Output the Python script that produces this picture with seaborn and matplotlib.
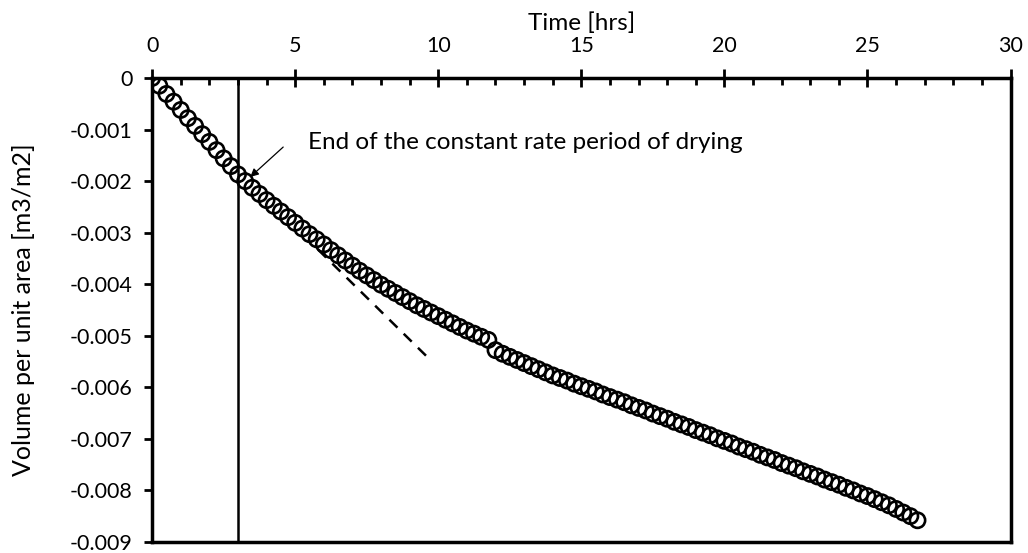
import numpy as np
import pandas as pd
import matplotlib
matplotlib.use("Agg")
import matplotlib.pyplot as plt
import seaborn as sns
from matplotlib.ticker import MultipleLocator

# Drying test: cumulative volume lost per unit area vs time (sampled every 15 min)
time_hrs = [
    0.00, 0.25, 0.50, 0.75, 1.00, 1.25, 1.50, 1.75, 2.00, 2.25, 2.50, 2.75,
    3.00, 3.25, 3.50, 3.75, 4.00, 4.25, 4.50, 4.75, 5.00, 5.25, 5.50, 5.75,
    6.00, 6.25, 6.50, 6.75, 7.00, 7.25, 7.50, 7.75, 8.00, 8.25, 8.50, 8.75,
    9.00, 9.25, 9.50, 9.75, 10.00, 10.25, 10.50, 10.75, 11.00, 11.25, 11.50, 11.75,
    12.00, 12.25, 12.50, 12.75, 13.00, 13.25, 13.50, 13.75, 14.00, 14.25, 14.50, 14.75,
    15.00, 15.25, 15.50, 15.75, 16.00, 16.25, 16.50, 16.75, 17.00, 17.25, 17.50, 17.75,
    18.00, 18.25, 18.50, 18.75, 19.00, 19.25, 19.50, 19.75, 20.00, 20.25, 20.50, 20.75,
    21.00, 21.25, 21.50, 21.75, 22.00, 22.25, 22.50, 22.75, 23.00, 23.25, 23.50, 23.75,
    24.00, 24.25, 24.50, 24.75, 25.00, 25.25, 25.50, 25.75, 26.00, 26.25, 26.50, 26.75,
]
volume_m3_m2 = [
    0.0, -0.00015, -0.00031, -0.00046, -0.00062, -0.00078, -0.00093, -0.00109,
    -0.00124, -0.00140, -0.00156, -0.00171, -0.00187, -0.00200, -0.00213, -0.00225,
    -0.00237, -0.00248, -0.00259, -0.00270, -0.00281, -0.00292, -0.00303, -0.00313,
    -0.00323, -0.00334, -0.00344, -0.00354, -0.00364, -0.00374, -0.00383, -0.00392,
    -0.00401, -0.00409, -0.00417, -0.00425, -0.00433, -0.00441, -0.00448, -0.00455,
    -0.00462, -0.00469, -0.00476, -0.00483, -0.00490, -0.00496, -0.00502, -0.00508,
    -0.00528, -0.00535, -0.00541, -0.00547, -0.00553, -0.00559, -0.00565, -0.00571,
    -0.00577, -0.00582, -0.00587, -0.00593, -0.00598, -0.00603, -0.00608, -0.00614,
    -0.00619, -0.00624, -0.00629, -0.00635, -0.00640, -0.00645, -0.00651, -0.00656,
    -0.00661, -0.00667, -0.00672, -0.00677, -0.00683, -0.00688, -0.00693, -0.00699,
    -0.00704, -0.00709, -0.00715, -0.00720, -0.00725, -0.00731, -0.00736, -0.00741,
    -0.00747, -0.00752, -0.00757, -0.00763, -0.00768, -0.00773, -0.00779, -0.00784,
    -0.00789, -0.00795, -0.00800, -0.00806, -0.00811, -0.00817, -0.00823, -0.00829,
    -0.00836, -0.00843, -0.00850, -0.00858,
]

# Extension of the constant-rate slope
rate_line_time = [5.8, 9.65]
rate_line_volume = [-0.00333, -0.00543]

# End of the constant rate period
critical_time = 3.0
arrow_tip = (3.43, -0.00192)
arrow_tail = (4.58, -0.00134)
note_pos = (5.45, -0.00126)
note_text = "End of the constant rate period of drying"

x_ticks = [0, 5, 10, 15, 20, 25, 30]
y_ticks = [0, -0.001, -0.002, -0.003, -0.004, -0.005, -0.006, -0.007, -0.008, -0.009]
y_tick_labels = ["0", "-0.001", "-0.002", "-0.003", "-0.004", "-0.005",
                 "-0.006", "-0.007", "-0.008", "-0.009"]

sns.set_theme(style="white")
plt.rcParams["font.family"] = ["Lato", "DejaVu Sans"]

fig = plt.figure(figsize=(10.28, 5.53), dpi=100)
ax = fig.add_axes([0.148, 0.02, 0.835, 0.839])

df = pd.DataFrame({"t": time_hrs, "v": volume_m3_m2})
sns.scatterplot(data=df, x="t", y="v", ax=ax, marker="o", s=120,
                facecolors="none", edgecolor="black", linewidth=1.9, zorder=3)

rate_df = pd.DataFrame({"t": rate_line_time, "v": rate_line_volume})
sns.lineplot(data=rate_df, x="t", y="v", ax=ax, color="black",
             linestyle=(0, (4.5, 3.5)), linewidth=1.8, zorder=2)

ax.axvline(critical_time, color="black", linewidth=1.8, zorder=2)

ax.annotate("", xy=arrow_tip, xytext=arrow_tail,
            arrowprops=dict(arrowstyle="-|>", color="black", lw=0.9,
                            mutation_scale=12, shrinkA=0, shrinkB=0))
ax.text(note_pos[0], note_pos[1], note_text, fontsize=17.5,
        ha="left", va="center", color="black")

ax.set_xlim(0, 30)
ax.set_ylim(-0.009, 0)
ax.xaxis.set_ticks_position("top")
ax.xaxis.set_label_position("top")
ax.set_xticks(x_ticks)
ax.xaxis.set_minor_locator(MultipleLocator(1))
ax.set_yticks(y_ticks)
ax.set_yticklabels(y_tick_labels)

ax.tick_params(axis="x", which="major", direction="inout", length=13, width=2,
               color="black", labelsize=15.5, pad=9, labelcolor="black")
ax.tick_params(axis="x", which="minor", direction="in", length=5, width=2,
               color="black", top=True, bottom=False)
ax.tick_params(axis="y", which="major", direction="out", length=6, width=2,
               color="black", labelsize=15.5, pad=8, labelcolor="black", left=True)

ax.set_xlabel("Time [hrs]", fontsize=17.5, labelpad=5, color="black")
ax.set_ylabel("Volume per unit area [m3/m2]", fontsize=18, labelpad=25, color="black")

for side in ["top", "bottom", "left", "right"]:
    ax.spines[side].set_visible(True)
    ax.spines[side].set_color("black")
    ax.spines[side].set_linewidth(2.5)

fig.savefig("out.png", dpi=100, facecolor="white")
